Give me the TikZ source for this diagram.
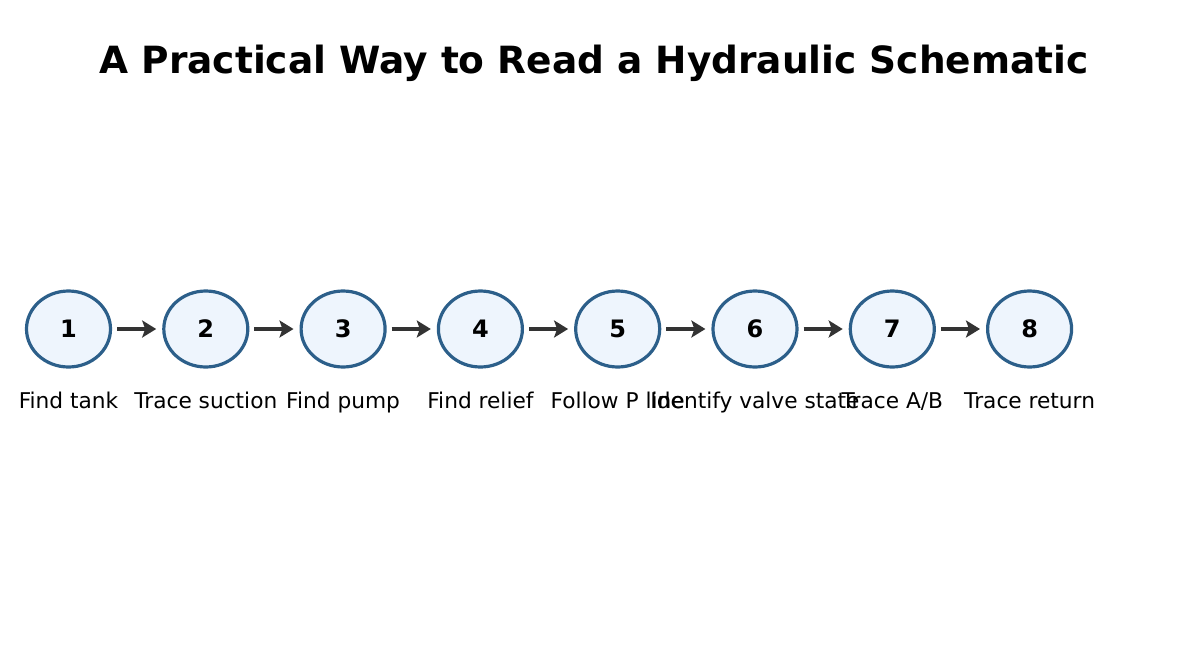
\documentclass[tikz,border=0pt]{standalone}
\usepackage{fontspec}
\setmainfont{DejaVu Sans}
\usetikzlibrary{arrows.meta,shapes.geometric}
\definecolor{stepedge}{HTML}{2C5F8A}
\definecolor{stepfill}{HTML}{EEF5FD}
\definecolor{arrowgray}{HTML}{333333}
\begin{document}
\begin{tikzpicture}[x=1pt,y=-1pt,
  stepnode/.style={ellipse, draw=stepedge, fill=stepfill, line width=3.2pt,
    minimum width=84pt, minimum height=76pt, inner sep=0pt,
    font=\fontsize{24}{28}\selectfont\bfseries},
  steplabel/.style={font=\fontsize{21.7}{25}\selectfont, inner sep=0pt, anchor=base},
  steparrow/.style={-{Stealth[length=14pt,width=17pt,inset=3pt]}, line width=3.4pt,
    draw=arrowgray, shorten <=5pt, shorten >=6pt}]
\useasboundingbox (0,0) rectangle (1184,659);
\node[font=\fontsize{37.5}{42}\selectfont\bfseries, anchor=base, inner sep=0pt] (title) at (594,73) {A Practical Way to Read a Hydraulic Schematic};
\foreach \i/\txt in {1/{Find tank}, 2/{Trace suction}, 3/{Find pump}, 4/{Find relief},
    5/{Follow P line}, 6/{Identify valve state}, 7/{Trace A/B}, 8/{Trace return}} {
  \node[stepnode] (step\i) at ({68.5+137.3*(\i-1)},329) {\i};
  \node[steplabel] (lbl\i) at ({68.5+137.3*(\i-1)},408) {\txt};
}
\foreach \i [evaluate=\i as \j using int(\i+1)] in {1,...,7}
  \draw[steparrow] (step\i) -- (step\j);
\end{tikzpicture}
\end{document}
